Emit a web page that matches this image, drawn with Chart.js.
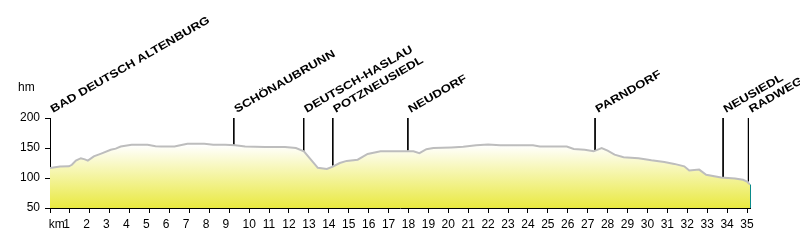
<!DOCTYPE html>
<html>
<head>
<meta charset="utf-8">
<script src="https://cdn.jsdelivr.net/npm/chart.js@4"></script>
<style>
html,body{margin:0;padding:0;background:#fff;}
#wrap{width:800px;height:248px;position:relative;}
</style>
</head>
<body>
<div id="wrap"><canvas id="c" width="800" height="248"></canvas></div>
<script>
// Elevation profile (km, metres)
const kmValues = [0,0.5,0.95,1.1,1.3,1.55,1.75,1.9,2.2,2.6,3.05,3.3,3.55,4.1,4.9,5.3,5.6,6.25,6.6,6.9,7.75,8.2,8.8,9.3,9.8,10.8,11.8,12.35,12.75,13.1,13.45,13.9,14.2,14.55,14.9,15.45,15.95,16.6,17.8,18.25,18.55,18.9,19.25,20.15,20.75,21.4,22.0,22.6,24.25,24.6,25.95,26.3,26.85,27.3,27.7,28.0,28.35,28.8,29.55,30.2,30.85,31.35,31.85,32.1,32.6,32.95,33.7,34.4,34.8,35.0,35.15];
const elevValues = [116.5,119,119.5,122,129,133,131,129,136,141,147,149,152.5,155.5,155.5,153,152.5,152.5,155,157,157,155.5,155.5,154.5,152.5,151.5,151.5,150,144.5,130.5,117,115,119,125,128.5,130.5,140,144.5,144.5,144.5,141.5,148,150,151,152,154.5,156,154.5,154.5,152.5,152.5,148.5,147,144.5,150,145.5,139,134.5,133,129.5,126.5,123.5,119.5,112.5,114,105.5,101,99,97,94,89];

// Places along the route
const locNames = ["BAD DEUTSCH ALTENBURG","SCHÖNAUBRUNN","DEUTSCH-HASLAU","POTZNEUSIEDL","NEUDORF","PARNDORF","NEUSIEDL","RADWEG"];
const locKm = [0,9.23,12.74,14.2,17.97,27.37,33.8,35.07];
const locElev = [117,155,145,121,146,146,101,94.5];

// Axis ticks
const kmTicks = [0,1,2,3,4,5,6,7,8,9,10,11,12,13,14,15,16,17,18,19,20,21,22,23,24,25,26,27,28,29,30,31,32,33,34,35];
const hmTicks = [50,100,150,200];
const hmMin = 50, hmMax = 200;
const kmMax = kmValues[kmValues.length-1];

const FONT = '"Liberation Sans", Arial, sans-serif';

const profilePts = kmValues.map((k,i)=>({x:k,y:elevValues[i]}));
const markerPts = [];
locKm.forEach((k,i)=>{ markerPts.push({x:k,y:hmMax},{x:k,y:locElev[i]},{x:k,y:null}); });
const endPts = [{x:kmMax,y:elevValues[elevValues.length-1]},{x:kmMax,y:hmMin}];

const labelPlugin = {
  id:'labels',
  afterDatasetsDraw(chart){
    const c = chart.ctx, xs = chart.scales.x, ys = chart.scales.y;
    c.save();
    c.fillStyle = '#000';
    c.font = '12px ' + FONT;
    c.textAlign = 'left';
    c.textBaseline = 'middle';
    c.fillText('hm', 18, ys.getPixelForValue(hmMax) - 30);
    const yTop = ys.getPixelForValue(hmMax) - 5;
    locNames.forEach((n,i)=>{
      const x = xs.getPixelForValue(locKm[i]) + 3;
      c.save();
      c.translate(x, yTop);
      c.rotate(-Math.PI/6);
      c.scale(1.2,1);
      c.font = 'bold 11px ' + FONT;
      c.textBaseline = 'alphabetic';
      c.fillText(n, 0, 0);
      c.restore();
    });
    c.restore();
  }
};

new Chart(document.getElementById('c'), {
  type:'line',
  data:{
    datasets:[
      {
        data: profilePts,
        borderColor:'#bdbdbd',
        borderWidth:2,
        pointRadius:0,
        tension:0,
        fill:'start',
        order:0,
        backgroundColor:(ctx)=>{
          const chart = ctx.chart; const ca = chart.chartArea;
          if(!ca) return 'rgba(233,233,66,0.5)';
          const y0 = chart.scales.y.getPixelForValue(155);
          const g = chart.ctx.createLinearGradient(0, y0, 0, ca.bottom);
          g.addColorStop(0,'#ffffff');
          g.addColorStop(1,'rgb(233,233,64)');
          return g;
        }
      },
      {
        data: markerPts,
        borderColor:'#000',
        borderWidth:1,
        pointRadius:0,
        spanGaps:false,
        fill:false,
        order:2
      },
      {
        data: endPts,
        borderColor:'#0a8a8a',
        borderWidth:2,
        pointRadius:0,
        fill:false,
        clip:4,
        order:1
      }
    ]
  },
  options:{
    responsive:false,
    animation:false,
    events:[],
    layout:{padding:{top:118,right:50,left:0,bottom:0}},
    plugins:{legend:{display:false},tooltip:{enabled:false},title:{display:false}},
    scales:{
      x:{
        type:'linear',
        min:0, max:kmMax,
        afterFit:(s)=>{ s.height = 40; },
        afterBuildTicks:(s)=>{ s.ticks = kmTicks.map(v=>({value:v})); },
        border:{display:true,color:'#000',width:1},
        grid:{drawOnChartArea:false,drawTicks:true,tickLength:5,color:'#000'},
        ticks:{
          autoSkip:false, maxRotation:0, padding:4,
          color:'#000', font:{family:FONT,size:12},
          callback:(v)=> v===0 ? '    km' : (v<10 ? v+'  ' : ''+v)
        }
      },
      y:{
        type:'linear',
        min:hmMin, max:hmMax,
        afterFit:(s)=>{ s.width = 50; },
        afterBuildTicks:(s)=>{ s.ticks = hmTicks.map(v=>({value:v})); },
        border:{display:true,color:'#000',width:1},
        grid:{drawOnChartArea:false,drawTicks:true,tickLength:5,color:'#000'},
        ticks:{padding:5,color:'#000',font:{family:FONT,size:12}}
      }
    }
  },
  plugins:[labelPlugin]
});
</script>
</body>
</html>
